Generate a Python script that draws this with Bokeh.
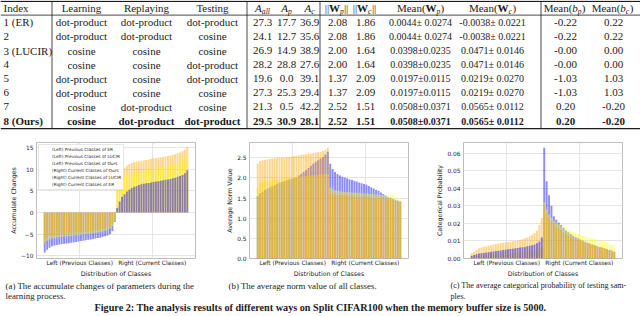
from bokeh.plotting import figure
from bokeh.models import Range1d, FixedTicker, Legend, LegendItem, NumeralTickFormatter
from bokeh.layouts import column, row
from bokeh.embed import file_html
from bokeh.resources import INLINE
from bokeh.core.properties import value

# ---------------- table data ----------------
index_col = ["1 (ER)", "2", "3 (LUCIR)", "4", "5", "6", "7", "8 (Ours)"]
learning = ["dot-product", "dot-product", "cosine", "cosine", "dot-product", "dot-product", "cosine", "cosine"]
replaying = ["dot-product", "dot-product", "cosine", "cosine", "cosine", "cosine", "dot-product", "dot-product"]
testing = ["dot-product", "cosine", "cosine", "dot-product", "dot-product", "cosine", "cosine", "dot-product"]
a_all = ["27.3", "24.1", "26.9", "28.2", "19.6", "27.3", "21.3", "29.5"]
a_p = ["17.7", "12.7", "14.9", "28.8", "0.0", "25.3", "0.5", "30.9"]
a_c = ["36.9", "35.6", "38.9", "27.6", "39.1", "29.4", "42.2", "28.1"]
norm_wp = ["2.08", "2.08", "2.00", "2.00", "1.37", "1.37", "2.52", "2.52"]
norm_wc = ["1.86", "1.86", "1.64", "1.64", "2.09", "2.09", "1.51", "1.51"]
mean_wp = ["0.0044\u00b1 0.0274", "0.0044\u00b1 0.0274", "0.0398\u00b10.0235", "0.0398\u00b10.0235",
           "0.0197\u00b10.0115", "0.0197\u00b10.0115", "0.0508\u00b10.0371", "0.0508\u00b10.0371"]
mean_wc = ["-0.0038\u00b1 0.0221", "-0.0038\u00b1 0.0221", "0.0471\u00b1 0.0146", "0.0471\u00b1 0.0146",
           "0.0219\u00b1 0.0270", "0.0219\u00b1 0.0270", "0.0565\u00b1 0.0112", "0.0565\u00b1 0.0112"]
mean_bp = ["-0.22", "-0.22", "-0.00", "-0.00", "-1.03", "-1.03", "0.20", "0.20"]
mean_bc = ["0.22", "0.22", "0.00", "0.00", "1.03", "1.03", "-0.20", "-0.20"]
plain_headers = ["Index", "Learning", "Replaying", "Testing"]

# ---------------- chart (a): accumulate changes ----------------
a_left_er = [-9.2, -8.6, -8.1, -7.8, -7.6, -7.5, -7.4, -7.3, -7.2, -7.15, -7.1, -7.0, -6.9, -6.8, -6.7,
             -6.6, -6.5, -6.4, -6.3, -6.2, -6.1, -6.0, -5.9, -5.8, -5.6, -5.5, -5.3, -5.0, -4.3, -2.2]
a_left_lucir = [-7.0, -6.5, -6.2, -6.0, -5.9, -5.8, -5.7, -5.6, -5.6, -5.5, -5.5, -5.4, -5.4, -5.3, -5.3,
                -5.2, -5.1, -5.0, -5.0, -4.9, -4.8, -4.7, -4.6, -4.5, -4.4, -4.2, -4.0, -3.7, -3.2, -2.0]
a_left_ours = [-7.3, -5.6, -5.3, -5.2, -5.1, -5.0, -5.0, -4.9, -4.9, -4.8, -4.8, -4.7, -4.7, -4.6, -4.6,
               -4.5, -4.5, -4.4, -4.4, -4.3, -4.2, -4.1, -4.0, -3.9, -3.8, -3.6, -3.4, -3.1, -2.6, -1.5]
a_right_er = [1.0, 2.5, 3.6, 4.2, 4.8, 5.2, 5.6, 5.9, 6.1, 6.3, 6.5, 6.6, 6.7, 6.8, 6.9,
              7.0, 7.1, 7.2, 7.3, 7.4, 7.5, 7.6, 7.7, 7.9, 8.0, 8.2, 8.4, 8.6, 9.0, 9.7]
a_right_lucir = [6.0, 7.0, 7.8, 8.3, 8.6, 8.9, 9.1, 9.3, 9.4, 9.5, 9.6, 9.7, 9.8, 9.9, 10.0,
                 10.1, 10.2, 10.3, 10.4, 10.5, 10.6, 10.7, 10.8, 11.0, 11.2, 11.4, 11.7, 12.0, 12.5, 13.5]
a_right_ours = [7.0, 8.6, 9.5, 10.2, 10.8, 11.1, 11.4, 11.6, 11.7, 11.8, 11.9, 12.0, 12.1, 12.2, 12.3,
                12.4, 12.5, 12.6, 12.7, 12.8, 12.9, 13.0, 13.1, 13.2, 13.4, 13.6, 13.8, 14.1, 14.5, 15.0]

# ---------------- chart (b): average norm ----------------
b_left_er = [1.55, 1.62, 1.66, 1.70, 1.73, 1.76, 1.79, 1.82, 1.85, 1.88, 1.90, 1.92, 1.94, 1.96, 1.98,
             2.00, 2.02, 2.06, 2.10, 2.15, 2.20, 2.25, 2.30, 2.35, 2.40, 2.44, 2.48, 2.52, 2.58, 2.65]
b_left_lucir = [1.75, 1.90, 1.91, 1.92, 1.93, 1.94, 1.95, 1.96, 1.97, 1.98, 1.99, 2.00, 2.00, 2.01, 2.02,
                2.02, 2.03, 2.04, 2.04, 2.05, 2.05, 2.06, 2.06, 2.07, 2.07, 2.08, 2.08, 2.09, 2.10, 2.10]
b_left_ours = [2.35, 2.42, 2.44, 2.45, 2.46, 2.47, 2.48, 2.49, 2.50, 2.50, 2.51, 2.51, 2.52, 2.52, 2.53,
               2.54, 2.55, 2.56, 2.57, 2.58, 2.59, 2.60, 2.61, 2.62, 2.63, 2.64, 2.65, 2.67, 2.70, 2.75]
b_right_er = [2.35, 2.22, 2.15, 2.10, 2.06, 2.03, 2.01, 1.99, 1.97, 1.95, 1.93, 1.91, 1.89, 1.87, 1.85,
              1.83, 1.80, 1.77, 1.74, 1.71, 1.68, 1.64, 1.60, 1.56, 1.52, 1.50, 1.48, 1.46, 1.44, 1.42]
b_right_lucir = [1.76, 1.72, 1.70, 1.68, 1.67, 1.66, 1.66, 1.65, 1.65, 1.64, 1.64, 1.63, 1.63, 1.62, 1.62,
                 1.61, 1.61, 1.60, 1.60, 1.59, 1.59, 1.58, 1.58, 1.57, 1.57, 1.56, 1.55, 1.52, 1.49, 1.46]
b_right_ours = [1.63, 1.60, 1.59, 1.58, 1.57, 1.57, 1.56, 1.56, 1.55, 1.55, 1.54, 1.54, 1.53, 1.53, 1.53,
                1.52, 1.52, 1.51, 1.51, 1.50, 1.50, 1.49, 1.49, 1.48, 1.47, 1.46, 1.45, 1.43, 1.41, 1.38]

# ---------------- chart (c): categorical probability ----------------
c_left_er = [0.0015, 0.002, 0.0025, 0.0028, 0.003, 0.0032, 0.0034, 0.0036, 0.0038, 0.004, 0.0042, 0.0044,
             0.0046, 0.0048, 0.005, 0.0052, 0.0054, 0.0056, 0.0058, 0.006, 0.0062, 0.0064, 0.0066, 0.0069,
             0.0072, 0.0076, 0.008, 0.0087, 0.0097, 0.012]
c_left_lucir = [0.001, 0.0013, 0.0016, 0.0018, 0.002, 0.0021, 0.0022, 0.0023, 0.0024, 0.0025, 0.0026, 0.0027,
                0.0028, 0.0029, 0.003, 0.0031, 0.0032, 0.0033, 0.0034, 0.0035, 0.0036, 0.0037, 0.0038, 0.004,
                0.0042, 0.0044, 0.0047, 0.005, 0.0055, 0.0065]
c_left_ours = [0.003, 0.004, 0.005, 0.0058, 0.0063, 0.0067, 0.007, 0.0073, 0.0076, 0.0079, 0.0082, 0.0085,
               0.0088, 0.009, 0.0092, 0.0094, 0.0096, 0.0098, 0.010, 0.0103, 0.0106, 0.011, 0.0115, 0.012,
               0.0127, 0.0135, 0.0145, 0.016, 0.019, 0.023]
c_right_er = [0.063, 0.044, 0.036, 0.03, 0.024, 0.022, 0.0205, 0.019, 0.0175, 0.016, 0.015, 0.014, 0.013,
              0.0122, 0.0115, 0.0108, 0.0102, 0.0096, 0.009, 0.0085, 0.008, 0.0075, 0.007, 0.0066, 0.0062,
              0.0058, 0.0054, 0.005, 0.0045, 0.004]
c_right_lucir = [0.032, 0.028, 0.025, 0.023, 0.0215, 0.0205, 0.0195, 0.0188, 0.018, 0.0172, 0.0165, 0.0158,
                 0.0152, 0.0146, 0.014, 0.0135, 0.013, 0.0125, 0.012, 0.0116, 0.0112, 0.0109, 0.0106, 0.0103,
                 0.01, 0.0096, 0.009, 0.0082, 0.0072, 0.006]
c_right_ours = [0.030, 0.026, 0.023, 0.021, 0.0195, 0.018, 0.017, 0.016, 0.015, 0.014, 0.013, 0.0122, 0.0115,
                0.011, 0.0104, 0.0099, 0.0094, 0.009, 0.0086, 0.0082, 0.0078, 0.0074, 0.007, 0.0066, 0.0061,
                0.0056, 0.005, 0.0044, 0.0037, 0.003]

x_labels = ["Left (Previous Classes)", "Right (Current Classes)"]
legend_labels = ["(Left) Previous Classes of ER", "(Left) Previous Classes of LUCIR",
                 "(Left) Previous Classes of Ours", "(Right) Current Classes of Ours",
                 "(Right) Current Classes of LUCIR", "(Right) Current Classes of ER"]
sub_captions = ["(a) The accumulate changes of parameters during the", "learning process.",
                "(b) The average norm value of all classes."]
sub_captions_c = ["(c) The average categorical probability of testing sam-", "ples."]
fig_caption = ("Figure 2: The analysis results of different ways on Split CIFAR100 "
               "when the memory buffer size is 5000.")

SERIF = value("Liberation Serif")
INK = "#1a1a1a"


def put(fig, xs, ys, texts, size, style="normal", align="center", font=SERIF):
    fig.text(x=xs, y=ys, text=texts, text_font=font, text_font_size=size,
             text_font_style=style, text_align=align, text_baseline="middle", text_color=INK)


# ---------------- table figure ----------------
tab = figure(width=640, height=130, x_range=Range1d(0, 640), y_range=Range1d(130, 0),
             output_backend="svg", toolbar_location=None, min_border=0,
             x_axis_location=None, y_axis_location=None)
tab.grid.visible = False
tab.outline_line_color = None

tab.segment(x0=[0, 0, 0], y0=[0.8, 14.6, 128.2], x1=[640, 640, 640], y1=[0.8, 14.6, 128.2],
            line_color=INK, line_width=[1.3, 0.8, 1.3])
vx = [51.5, 246.5, 319.5, 540.5]
tab.segment(x0=vx, y0=[0.8] * 4, x1=vx, y1=[128.2] * 4, line_color=INK, line_width=0.8)

fm, fs = 11.0, 7.6
F = "%.1fpx" % fm
FN = "10.0px"
SUB = "%.1fpx" % fs
hy = 7.5
put(tab, [3], [hy], plain_headers[:1], F, align="left")
put(tab, [81, 146, 212], [hy] * 3, plain_headers[1:], F)


def math_header(center, parts):
    total = sum(p[1] for p in parts)
    x = center - total / 2
    for t, w, size, style, dy in parts:
        put(tab, [x], [hy + dy], [t], size, style=style, align="left")
        x += w


math_header(262, [("A", .611 * fm, F, "italic", 0), ("all", 1.06 * fs, SUB, "italic", 3)])
math_header(286, [("A", .611 * fm, F, "italic", 0), ("p", .5 * fs, SUB, "italic", 3)])
math_header(309, [("A", .611 * fm, F, "italic", 0), ("c", .444 * fs, SUB, "italic", 3)])
for cx, s in [(336, "p"), (364, "c")]:
    math_header(cx, [("||", .4 * fm, F, "normal", 0), ("W", 1.0 * fm, F, "bold", 0),
                     (s, .5 * fs, SUB, "italic", 3), ("||", .4 * fm, F, "normal", 0)])
for cx, s in [(420, "p"), (492, "c")]:
    math_header(cx, [("Mean(", 2.61 * fm, F, "normal", 0), ("W", 1.0 * fm, F, "bold", 0),
                     (s, .5 * fs, SUB, "italic", 3), (")", .333 * fm, F, "normal", 0)])
for cx, s in [(564, "p"), (612, "c")]:
    math_header(cx, [("Mean(", 2.61 * fm, F, "normal", 0), ("b", .5 * fm, F, "italic", 0),
                     (s, .5 * fs, SUB, "italic", 3), (")", .333 * fm, F, "normal", 0)])

body_cols = [learning, replaying, testing, a_all, a_p, a_c, norm_wp, norm_wc, mean_wp, mean_wc, mean_bp, mean_bc]
col_x = [81, 146, 212, 262, 286, 309, 337, 365, 420, 492, 565, 613]
col_fs = [F, F, F, F, F, F, F, F, FN, FN, F, F]
row_y = [21.8 + 14.1 * i for i in range(len(index_col))]
nb = len(index_col) - 1
put(tab, [3] * nb, row_y[:nb], index_col[:nb], F, align="left")
put(tab, [3], row_y[nb:], index_col[nb:], F, style="bold", align="left")
for cx, col, size in zip(col_x, body_cols, col_fs):
    put(tab, [cx] * nb, row_y[:nb], col[:nb], size)
    put(tab, [cx], row_y[nb:], col[nb:], size, style="bold")

# ---------------- bar charts ----------------
COL = {"ER": "#0000ff", "LUCIR": "#ffff00", "Ours": "#ffa500"}
N = len(a_left_er)


def chart(left, right, order_l, order_r, yr, ticks, ylabel, width, fmt=None, overrides=None, legend=False):
    p = figure(width=width, height=149, x_range=Range1d(-2.9, 62.9), y_range=Range1d(*yr),
               output_backend="svg", toolbar_location=None,
               min_border_left=36, min_border_right=width - 36 - 159, min_border_top=12, min_border_bottom=17)
    xl = [i + 0.5 for i in range(N)]
    xr = [N + i + 0.5 for i in range(N)]
    for name in order_l:
        p.vbar(x=xl, top=left[name], width=0.8, fill_color=COL[name], fill_alpha=0.45, line_color=None)
    for name in order_r:
        p.vbar(x=xr, top=right[name], width=0.8, fill_color=COL[name], fill_alpha=0.45, line_color=None)
    p.xaxis.ticker = FixedTicker(ticks=[15, 45])
    p.xaxis.major_label_overrides = {15: x_labels[0], 45: x_labels[1]}
    p.xaxis.axis_label = "Distribution of Classes"
    p.yaxis.ticker = FixedTicker(ticks=ticks)
    if fmt:
        p.yaxis.formatter = NumeralTickFormatter(format=fmt)
    if overrides:
        p.yaxis.major_label_overrides = overrides
    p.yaxis.axis_label = ylabel
    for ax in p.axis:
        ax.axis_line_color = None
        ax.major_tick_line_color = None
        ax.minor_tick_line_color = None
        ax.major_tick_out = 0
        ax.major_tick_in = 0
        ax.minor_tick_out = 0
        ax.major_label_text_font = "DejaVu Sans"
        ax.major_label_text_font_size = "5.9px"
        ax.major_label_text_color = INK
        ax.major_label_standoff = 3
        ax.axis_label_text_font = "DejaVu Sans"
        ax.axis_label_text_font_size = "6.3px"
        ax.axis_label_text_font_style = "normal"
        ax.axis_label_text_color = INK
        ax.axis_label_standoff = 1
    p.xaxis.major_label_standoff = 1
    p.xaxis.axis_label_standoff = 1
    p.grid.grid_line_color = "#dedede"
    p.grid.grid_line_width = 0.8
    p.outline_line_color = "#bdbdbd"
    p.outline_line_width = 1
    if legend:
        cols = ["#1a1aff", "#ffff33", "#ffb84d", "#ffa000", "#ffff33", "#1a1aff"]
        items = []
        for lab, c in zip(legend_labels, cols):
            r = p.vbar(x=[], top=[], width=0.8, fill_color=c, line_color=None)
            items.append(LegendItem(label=lab, renderers=[r]))
        lg = Legend(items=items, location="top_left", label_text_font_size="4.3px",
                    label_text_font="DejaVu Sans", label_text_color=INK,
                    glyph_height=4, glyph_width=8, label_height=5, spacing=2, padding=2, margin=2,
                    label_standoff=3, border_line_color="#cccccc", border_line_width=0.8,
                    background_fill_alpha=0.85)
        p.add_layout(lg)
    return p


fa = chart({"ER": a_left_er, "LUCIR": a_left_lucir, "Ours": a_left_ours},
           {"ER": a_right_er, "LUCIR": a_right_lucir, "Ours": a_right_ours},
           ["ER", "LUCIR", "Ours"], ["Ours", "LUCIR", "ER"], (-10.6, 16.1),
           [-10, -5, 0, 5, 10, 15], "Accumulate Changes", 213,
           overrides={-10: "\u221210", -5: "\u22125"}, legend=True)
fb = chart({"ER": b_left_er, "LUCIR": b_left_lucir, "Ours": b_left_ours},
           {"ER": b_right_er, "LUCIR": b_right_lucir, "Ours": b_right_ours},
           ["ER", "LUCIR", "Ours"], ["ER", "LUCIR", "Ours"], (0, 2.88),
           [0, 0.5, 1.0, 1.5, 2.0, 2.5], "Average Norm Value", 214, fmt="0.0")
fc = chart({"ER": c_left_er, "LUCIR": c_left_lucir, "Ours": c_left_ours},
           {"ER": c_right_er, "LUCIR": c_right_lucir, "Ours": c_right_ours},
           ["LUCIR", "Ours", "ER"], ["ER", "LUCIR", "Ours"], (0, 0.066),
           [0, 0.01, 0.02, 0.03, 0.04, 0.05, 0.06], "Categorical Probability", 213, fmt="0.00")

# ---------------- captions ----------------
cap = figure(width=640, height=37, x_range=Range1d(0, 640), y_range=Range1d(316, 279),
             output_backend="svg", toolbar_location=None, min_border=0,
             x_axis_location=None, y_axis_location=None)
cap.grid.visible = False
cap.outline_line_color = None
put(cap, [5, 5, 228], [285, 295.5, 285], sub_captions, "8.9px", align="left")
put(cap, [450, 450], [285, 295.5], sub_captions_c, "8.1px", align="left")
put(cap, [320], [306.5], [fig_caption], "10.2px", style="bold")

layout = column(tab, row(fa, fb, fc), cap)
open("out.html", "w").write(file_html(layout, INLINE, "Figure 2"))
